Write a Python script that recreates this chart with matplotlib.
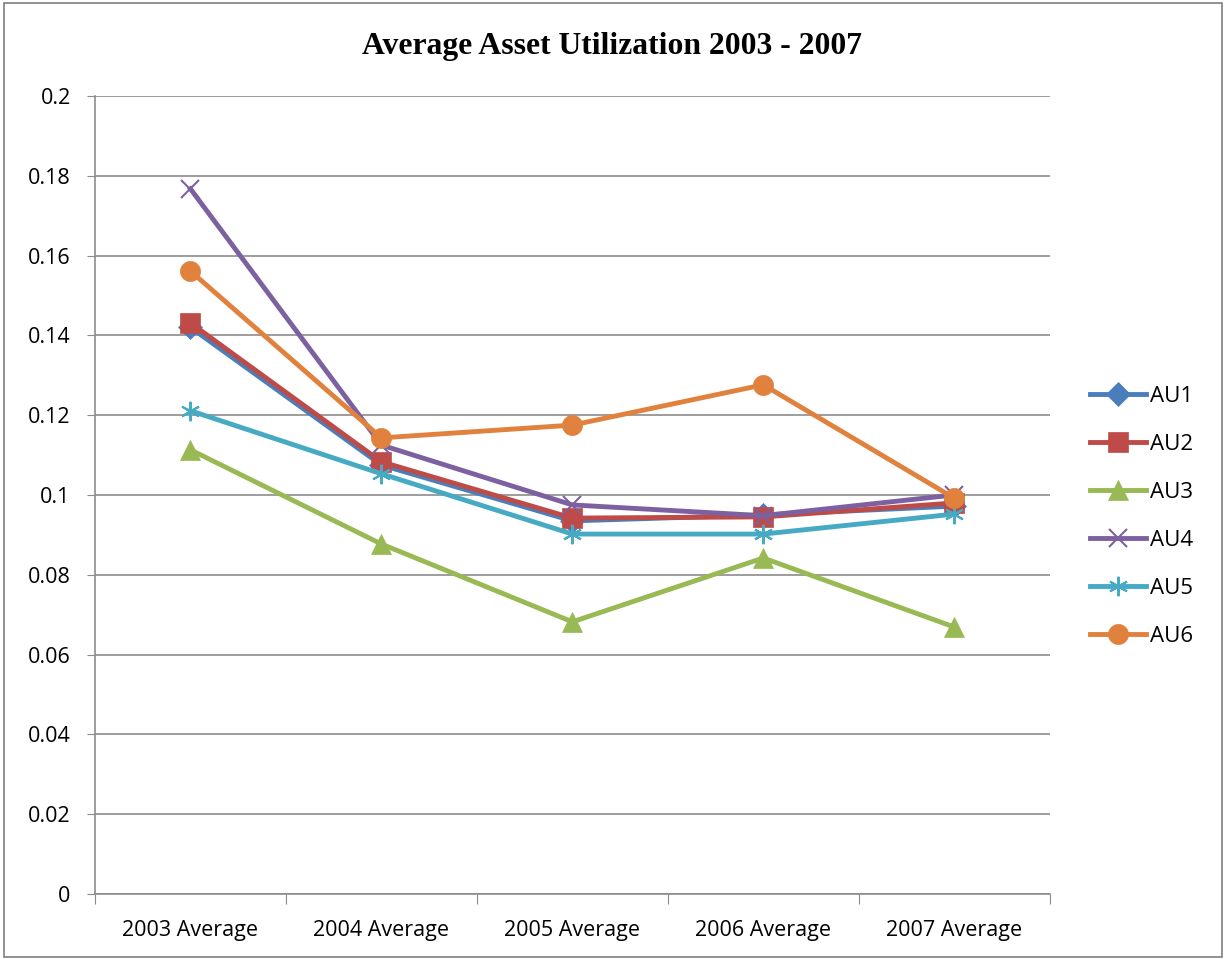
import matplotlib.pyplot as plt
from matplotlib.patches import Rectangle

categories = ['2003 Average', '2004 Average', '2005 Average', '2006 Average', '2007 Average']
au1 = [0.1420, 0.1075, 0.0935, 0.0950, 0.0972]
au2 = [0.1431, 0.1083, 0.0942, 0.0945, 0.0980]
au3 = [0.1113, 0.0877, 0.0682, 0.0842, 0.0669]
au4 = [0.1767, 0.1125, 0.0975, 0.0948, 0.1000]
au5 = [0.1211, 0.1053, 0.0902, 0.0902, 0.0952]
au6 = [0.1561, 0.1143, 0.1175, 0.1276, 0.0992]

series = [
    ('AU1', au1, '#4A7EBB', 'D', 12),
    ('AU2', au2, '#BE4B48', 's', 14),
    ('AU3', au3, '#98B954', '^', 15),
    ('AU4', au4, '#7D60A0', 'x', 13),
    ('AU5', au5, '#46AAC5', (6, 2, 0), 14),
    ('AU6', au6, '#E0823D', 'o', 14.5),
]

fig = plt.figure(figsize=(12.24, 9.59), dpi=100)
fig.patches.append(Rectangle((0.003, 0.002), 0.995, 0.995, transform=fig.transFigure,
                             fill=False, edgecolor='#7f7f7f', linewidth=1.2))
ax = fig.add_axes([0.0776, 0.0678, 0.780, 0.8322])

x = range(len(categories))
for name, vals, color, marker, ms in series:
    ax.plot(x, vals, color=color, linewidth=3.5, marker=marker, markersize=ms,
            markeredgewidth=1.5 if marker in ('x', (6, 2, 0)) else 0.5,
            markeredgecolor=color, label=name)

ax.set_xlim(-0.5, 4.5)
ax.set_ylim(0, 0.2)
ax.set_yticks([0, 0.02, 0.04, 0.06, 0.08, 0.1, 0.12, 0.14, 0.16, 0.18, 0.2])
ax.set_yticklabels(['0', '0.02', '0.04', '0.06', '0.08', '0.1', '0.12', '0.14',
                    '0.16', '0.18', '0.2'])
ax.yaxis.grid(True, color='#8c8c8c', linewidth=1.2)
ax.set_axisbelow(True)

# category boundaries carry the tick marks, labels sit between them
ax.set_xticks([i - 0.5 for i in range(6)])
ax.set_xticklabels([])
ax.set_xticks(list(x), minor=True)
ax.set_xticklabels(categories, minor=True)
ax.tick_params(axis='x', which='major', length=7, color='#8c8c8c', direction='out')
ax.tick_params(axis='x', which='minor', length=0, pad=19)
ax.tick_params(axis='y', length=6, color='#8c8c8c', pad=11.5)
for lab in ax.get_xticklabels(minor=True) + ax.get_yticklabels():
    lab.set_fontfamily('Open Sans')
    lab.set_fontsize(15.5)

for side in ('top', 'right'):
    ax.spines[side].set_visible(False)
for side in ('left', 'bottom'):
    ax.spines[side].set_color('#8c8c8c')
    ax.spines[side].set_linewidth(1.2)

fig.text(0.5, 0.951, 'Average Asset Utilization 2003 - 2007', ha='center', va='center',
         fontfamily='Liberation Serif', fontweight='bold', fontsize=22.8)

leg = ax.legend(loc='center left', bbox_to_anchor=(1.042, 0.473), frameon=False,
                prop={'family': 'Open Sans', 'size': 16}, labelspacing=1.22,
                handlelength=2.55, handletextpad=0.15, borderaxespad=0, borderpad=0)

fig.savefig('out.png', dpi=100)
